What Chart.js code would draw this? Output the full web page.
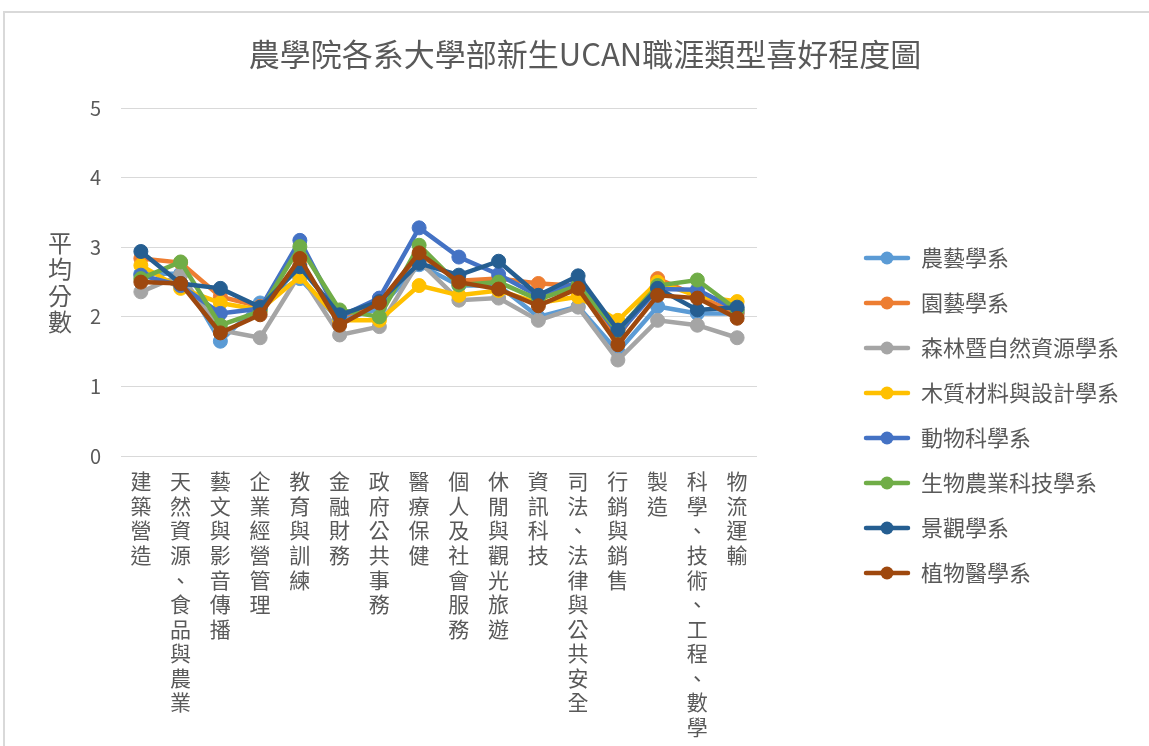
<!DOCTYPE html>
<html>
<head>
<meta charset="utf-8">
<script src="https://cdn.jsdelivr.net/npm/chart.js@4/dist/chart.umd.min.js"></script>
<style>
  html, body { margin: 0; padding: 0; background: #fff; overflow: hidden; }
  #frame { position: absolute; left: 3px; top: 11px; width: 1300px; height: 900px; border: 2px solid #d9d9d9; }
  #wrap { position: absolute; left: 0; top: 0; width: 1149px; height: 746px; }
</style>
</head>
<body>
<div id="frame"></div>
<div id="wrap"><canvas id="myChart" width="1149" height="746"></canvas></div>
<script>
var categories = ['建築營造', '天然資源、食品與農業', '藝文與影音傳播', '企業經營管理', '教育與訓練', '金融財務',
  '政府公共事務', '醫療保健', '個人及社會服務', '休閒與觀光旅遊', '資訊科技', '司法、法律與公共安全',
  '行銷與銷售', '製造', '科學、技術、工程、數學', '物流運輸'];

var agronomy  = [2.62, 2.62, 1.65, 2.20, 2.55, 1.95, 2.12, 2.75, 2.45, 2.45, 2.00, 2.15, 1.50, 2.15, 2.05, 2.05];
var horti     = [2.84, 2.78, 2.29, 2.15, 2.75, 2.00, 2.20, 2.90, 2.52, 2.55, 2.48, 2.45, 1.70, 2.55, 2.30, 2.05];
var forestry  = [2.36, 2.60, 1.81, 1.70, 2.62, 1.74, 1.86, 2.80, 2.24, 2.27, 1.95, 2.14, 1.38, 1.95, 1.88, 1.70];
var wood      = [2.74, 2.41, 2.20, 2.10, 2.58, 1.95, 1.95, 2.45, 2.31, 2.38, 2.20, 2.29, 1.95, 2.50, 2.30, 2.22];
var animal    = [2.60, 2.45, 2.05, 2.12, 3.10, 2.00, 2.27, 3.28, 2.86, 2.61, 2.30, 2.50, 1.75, 2.40, 2.39, 2.10];
var bioAgri   = [2.55, 2.79, 1.88, 2.08, 3.01, 2.10, 2.00, 3.03, 2.46, 2.50, 2.25, 2.45, 1.80, 2.45, 2.53, 2.10];
var landscape = [2.94, 2.48, 2.41, 2.14, 2.72, 2.03, 2.22, 2.77, 2.60, 2.80, 2.31, 2.59, 1.81, 2.41, 2.10, 2.14];
var plantMed  = [2.50, 2.48, 1.77, 2.03, 2.84, 1.88, 2.20, 2.92, 2.50, 2.40, 2.16, 2.41, 1.60, 2.31, 2.27, 1.98];

var seriesNames = ['農藝學系', '園藝學系', '森林暨自然資源學系', '木質材料與設計學系', '動物科學系', '生物農業科技學系', '景觀學系', '植物醫學系'];
var seriesData = [agronomy, horti, forestry, wood, animal, bioAgri, landscape, plantMed];
var colors = ['#5B9BD5', '#ED7D31', '#A5A5A5', '#FFC000', '#4472C4', '#70AD47', '#255E91', '#9E480E'];
var yTicks = [0, 1, 2, 3, 4, 5];
var yTitle = '平均分數';

var textColor = '#595959';
Chart.defaults.font.family = "'Noto Sans CJK TC', 'Noto Sans', sans-serif";
Chart.defaults.color = textColor;

// little line + dot images for the legend
function makeMarker(color) {
  var c = document.createElement('canvas');
  c.width = 48; c.height = 16;
  var g = c.getContext('2d');
  g.strokeStyle = color; g.lineWidth = 4.5; g.lineCap = 'round';
  g.beginPath(); g.moveTo(3, 8); g.lineTo(45, 8); g.stroke();
  g.fillStyle = color;
  g.beginPath(); g.arc(24, 8, 6.5, 0, Math.PI * 2); g.fill();
  return c;
}
var markers = colors.map(makeMarker);

var yTitlePlugin = {
  id: 'yTitle',
  afterDraw: function(chart) {
    var ctx = chart.ctx;
    ctx.save();
    ctx.font = "24px 'Noto Sans CJK TC', sans-serif";
    ctx.fillStyle = textColor;
    ctx.textAlign = 'center';
    ctx.textBaseline = 'middle';
    for (var i = 0; i < yTitle.length; i++) {
      ctx.fillText(yTitle[i], 60, 243 + i * 26.3);
    }
    ctx.restore();
  }
};

var ctx = document.getElementById('myChart').getContext('2d');
var myChart = new Chart(ctx, {
  type: 'line',
  data: {
    labels: categories.map(function(c) { return c.split(''); }),
    datasets: seriesNames.map(function(name, i) {
      return {
        label: name,
        data: seriesData[i],
        borderColor: colors[i],
        backgroundColor: colors[i],
        pointBackgroundColor: colors[i],
        pointBorderColor: colors[i],
        borderWidth: 4.5,
        pointRadius: 7,
        pointBorderWidth: 1,
        order: seriesNames.length - i
      };
    })
  },
  options: {
    responsive: false,
    animation: false,
    layout: { padding: { left: 41, right: 20, top: 0, bottom: 0 } },
    plugins: {
      tooltip: { enabled: false },
      title: {
        display: true,
        text: '農學院各系大學部新生UCAN職涯類型喜好程度圖',
        color: textColor,
        font: { size: 31, weight: 'normal' },
        padding: { top: 36, bottom: 35 }
      },
      legend: {
        display: true,
        position: 'right',
        align: 'start',
        maxWidth: 300,
        title: { display: true, text: '', font: { size: 10 }, padding: { top: 212, bottom: 0 } },
        labels: {
          usePointStyle: true,
          pointStyleWidth: 46,
          padding: 23,
          color: textColor,
          font: { size: 22 },
          generateLabels: function(chart) {
            return chart.data.datasets.map(function(ds, i) {
              return {
                text: ds.label,
                pointStyle: markers[i],
                fillStyle: colors[i],
                strokeStyle: colors[i],
                fontColor: textColor,
                lineWidth: 0,
                hidden: !chart.isDatasetVisible(i),
                datasetIndex: i
              };
            });
          }
        }
      }
    },
    scales: {
      x: {
        offset: true,
        grid: { display: false, drawTicks: false },
        border: { display: true, color: '#d9d9d9', width: 1 },
        ticks: {
          autoSkip: false,
          maxRotation: 0,
          minRotation: 0,
          padding: 13,
          color: textColor,
          font: { size: 21, lineHeight: 1.17 }
        },
        afterFit: function(s) { s.height = 290; }
      },
      y: {
        min: 0,
        max: 5,
        afterBuildTicks: function(s) { s.ticks = yTicks.map(function(v) { return { value: v }; }); },
        grid: { color: '#d9d9d9', lineWidth: 1, drawTicks: false },
        border: { display: false },
        ticks: { padding: 20, color: textColor, font: { size: 20 } },
        afterFit: function(s) { s.width = 80; }
      },
      pad: {
        type: 'linear',
        position: 'right',
        display: true,
        grid: { display: false, drawTicks: false },
        border: { display: false },
        ticks: { display: false },
        afterFit: function(s) { s.width = 84; }
      }
    }
  },
  plugins: [yTitlePlugin]
});
</script>
</body>
</html>
